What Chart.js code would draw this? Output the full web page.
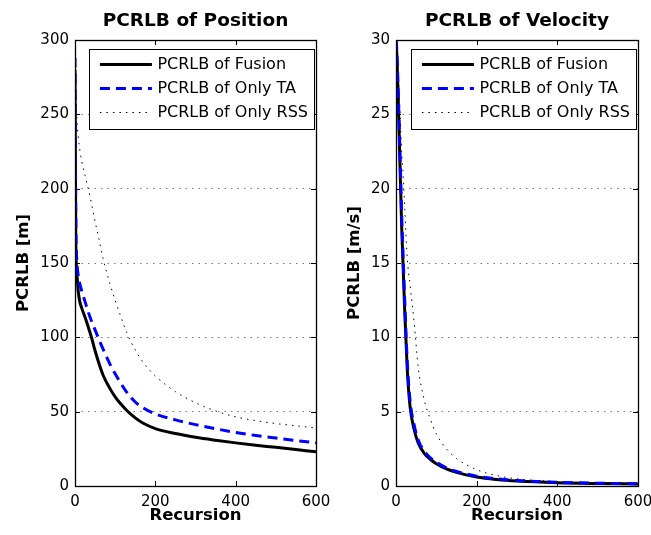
<!DOCTYPE html>
<html>
<head>
<meta charset="utf-8">
<script src="https://cdn.jsdelivr.net/npm/chart.js@4.4.1/dist/chart.umd.min.js"></script>
<style>
  html, body { margin: 0; padding: 0; background: #fff; overflow: hidden; width: 651px; height: 535px; }
  canvas { position: absolute; top: 0; }
  #posChart { left: 0; }
  #velChart { left: 330px; }
</style>
</head>
<body>
<canvas id="posChart" width="345" height="535"></canvas>
<canvas id="velChart" width="345" height="535"></canvas>
<script>
// DATA - position bound (m)
const posRecursion = [0, 2, 5, 8, 12, 17, 25, 33, 41, 50, 62, 70, 87, 100, 112, 129, 150, 170, 200, 250, 300, 350, 400, 450, 500, 550, 600];
const posFusion = [280, 165, 142, 131, 124, 119.5, 113.5, 107, 100, 91, 80.5, 74.5, 65.5, 60, 55.8, 50.8, 45.8, 42.2, 38.6, 35.3, 32.8, 30.8, 29, 27.4, 26, 24.5, 23];
const posOnlyTA = [288, 180, 150, 142, 136, 131, 124, 117, 111, 105, 97, 92, 82, 75.5, 70, 63, 56.5, 52.5, 48.5, 44.5, 41.3, 38.5, 36, 34, 32.3, 30.6, 29];
const posOnlyRSS = [292, 265, 246, 235, 226, 218, 209, 200, 190, 178, 163, 153, 136, 125, 115.5, 103, 91.5, 83, 74, 63.5, 56, 50.5, 46.5, 44, 42, 40.5, 39];

// DATA - velocity bound (m/s)
const velRecursion = [0, 2, 5, 10, 14, 18, 22, 28, 35, 45, 55, 70, 85, 100, 125, 150, 200, 250, 300, 400, 500, 600];
const velFusion = [30, 29, 26.5, 21.5, 17.5, 14.5, 11.5, 7.8, 5.3, 3.8, 2.9, 2.2, 1.8, 1.5, 1.15, 0.92, 0.6, 0.43, 0.33, 0.22, 0.17, 0.14];
const velOnlyTA = [30, 29.3, 27, 22.3, 18.3, 15.2, 12.2, 8.3, 5.7, 4.1, 3.1, 2.35, 1.9, 1.6, 1.22, 0.98, 0.66, 0.48, 0.37, 0.25, 0.19, 0.15];
const velOnlyRSS = [30, 29.5, 28, 25, 22.5, 20.8, 18.5, 15.3, 13.5, 11, 8, 5.8, 4.5, 3.5, 2.5, 1.85, 1.1, 0.7, 0.48, 0.3, 0.22, 0.18];

// tick labels
const recursionTicks = [0, 200, 400, 600];
const posTicks = [0, 50, 100, 150, 200, 250, 300];
const velTicks = [0, 5, 10, 15, 20, 25, 30];

const seriesNames = ['PCRLB of Fusion', 'PCRLB of Only TA', 'PCRLB of Only RSS'];

const FONT = '"DejaVu Sans", "Liberation Sans", Arial, sans-serif';

const toPoints = (xs, ys) => xs.map((x, i) => ({ x, y: ys[i] }));

// matlab-like box, inward ticks, title and framed legend
const matlabLook = {
  id: 'matlabLook',
  afterDatasetsDraw(chart) {
    const { ctx, chartArea: a, scales: { x, y } } = chart;
    ctx.save();
    ctx.strokeStyle = '#000';
    ctx.lineWidth = 1;
    ctx.beginPath();
    x.ticks.forEach((t) => {
      const px = Math.round(x.getPixelForValue(t.value)) + 0.5;
      ctx.moveTo(px, a.bottom); ctx.lineTo(px, a.bottom - 5);
      ctx.moveTo(px, a.top); ctx.lineTo(px, a.top + 5);
    });
    y.ticks.forEach((t) => {
      const py = Math.round(y.getPixelForValue(t.value)) + 0.5;
      ctx.moveTo(a.left, py); ctx.lineTo(a.left + 5, py);
      ctx.moveTo(a.right, py); ctx.lineTo(a.right - 5, py);
    });
    ctx.stroke();
    ctx.lineWidth = 1.3;
    ctx.strokeRect(Math.round(a.left) + 0.5, Math.round(a.top) + 0.5,
      Math.round(a.right - a.left), Math.round(a.bottom - a.top));
    ctx.restore();
  },
  afterDraw(chart, args, opts) {
    const { ctx, chartArea: a } = chart;
    const sets = chart.data.datasets;
    ctx.save();

    // title
    ctx.font = 'bold 18.5px ' + FONT;
    ctx.fillStyle = '#000';
    ctx.textAlign = 'center';
    ctx.textBaseline = 'alphabetic';
    ctx.fillText(opts.title, (a.left + a.right) / 2, 26);

    // legend
    ctx.font = '16px ' + FONT;
    const textW = Math.max(...sets.map(d => ctx.measureText(d.label).width));
    const right = a.right - 2;
    const textX = right - 6 - textW;
    const sampleEnd = textX - 5.5;
    const sampleStart = sampleEnd - 52;
    const left = Math.round(sampleStart - 10.5);
    const top = Math.round(a.top + 9);
    ctx.fillStyle = '#fff';
    ctx.fillRect(left, top, right - left, 80);
    ctx.strokeStyle = '#000';
    ctx.lineWidth = 1;
    ctx.strokeRect(left + 0.5, top + 0.5, Math.round(right - left), 80);
    sets.forEach((d, i) => {
      const ly = top + 15.5 + i * 24;
      ctx.beginPath();
      ctx.setLineDash(d.borderDash || []);
      ctx.lineWidth = d.borderWidth;
      ctx.strokeStyle = d.borderColor;
      ctx.moveTo(sampleStart, ly);
      ctx.lineTo(sampleEnd, ly);
      ctx.stroke();
      ctx.setLineDash([]);
      ctx.fillStyle = '#000';
      ctx.textAlign = 'left';
      ctx.textBaseline = 'middle';
      ctx.fillText(d.label, textX, ly);
    });
    ctx.restore();
  }
};

const makeDatasets = (xs, fusion, onlyTA, onlyRSS) => ([
  {
    label: seriesNames[0],
    data: toPoints(xs, fusion),
    borderColor: '#000000',
    borderWidth: 3,
    order: 2
  },
  {
    label: seriesNames[1],
    data: toPoints(xs, onlyTA),
    borderColor: '#0000ff',
    borderWidth: 3,
    borderDash: [10, 6],
    order: 1
  },
  {
    label: seriesNames[2],
    data: toPoints(xs, onlyRSS),
    borderColor: '#000000',
    borderWidth: 1,
    borderDash: [1.5, 5],
    order: 3
  }
]);

const buildConfig = (opts) => ({
  type: 'line',
  data: { datasets: makeDatasets(opts.xs, opts.fusion, opts.onlyTA, opts.onlyRSS) },
  options: {
    responsive: false,
    animation: false,
    devicePixelRatio: 1,
    layout: { padding: { top: 40, left: 0, right: opts.padRight, bottom: 0 } },
    elements: {
      point: { radius: 0 },
      line: { cubicInterpolationMode: 'monotone', fill: false }
    },
    plugins: {
      legend: { display: false },
      tooltip: { enabled: false },
      matlabLook: { title: opts.title }
    },
    scales: {
      x: {
        type: 'linear',
        min: 0,
        max: 600,
        afterBuildTicks: (scale) => { scale.ticks = recursionTicks.map(v => ({ value: v })); },
        afterFit: (scale) => { scale.height = 49; },
        grid: { display: false, drawTicks: false },
        border: { display: false },
        ticks: { color: '#000', padding: 7, maxRotation: 0, font: { family: FONT, size: 15 } },
        title: {
          display: true,
          text: 'Recursion',
          color: '#000',
          padding: { top: 0, bottom: 9 },
          font: { family: FONT, size: 16.5, weight: 'bold' }
        }
      },
      y: {
        type: 'linear',
        min: 0,
        max: opts.yTicks[opts.yTicks.length - 1],
        afterBuildTicks: (scale) => { scale.ticks = opts.yTicks.map(v => ({ value: v })); },
        afterFit: (scale) => { scale.width = opts.yWidth; },
        grid: { color: '#777', lineWidth: 1, drawTicks: false },
        border: { display: false, dash: [1.5, 5] },
        ticks: { color: '#000', padding: 6, font: { family: FONT, size: 15 } },
        title: {
          display: true,
          text: opts.yLabel,
          color: '#000',
          padding: { top: opts.yTitlePad, bottom: 0 },
          font: { family: FONT, size: 16.5, weight: 'bold' }
        }
      }
    }
  },
  plugins: [matlabLook]
});

new Chart(document.getElementById('posChart'), buildConfig({
  xs: posRecursion,
  fusion: posFusion,
  onlyTA: posOnlyTA,
  onlyRSS: posOnlyRSS,
  yTicks: posTicks,
  yLabel: 'PCRLB [m]',
  title: 'PCRLB of Position',
  yWidth: 75,
  yTitlePad: 14,
  padRight: 29
}));

new Chart(document.getElementById('velChart'), buildConfig({
  xs: velRecursion,
  fusion: velFusion,
  onlyTA: velOnlyTA,
  onlyRSS: velOnlyRSS,
  yTicks: velTicks,
  yLabel: 'PCRLB [m/s]',
  title: 'PCRLB of Velocity',
  yWidth: 66,
  yTitlePad: 15,
  padRight: 37
}));
</script>
</body>
</html>
